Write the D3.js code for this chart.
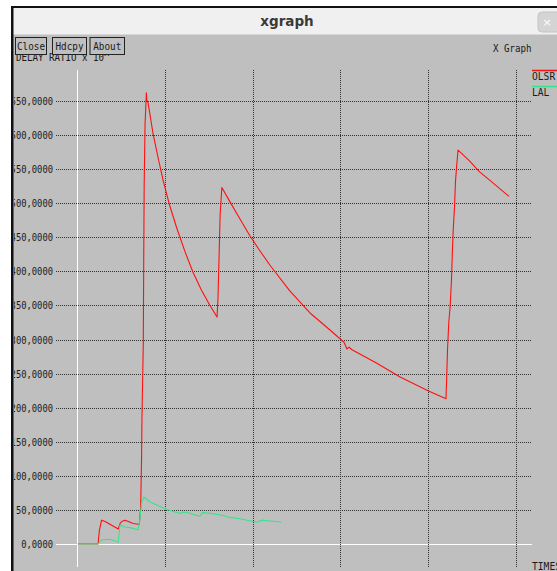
<!DOCTYPE html>
<html>
<head>
<meta charset="utf-8">
<script src="https://cdn.jsdelivr.net/npm/d3@7"></script>
<style>
  html, body { margin: 0; padding: 0; background: #ffffff; }
  svg { display: block; }
</style>
</head>
<body>
<svg id="chart" width="557" height="571"></svg>
<script>
// OLSR delay ratio over time (x10^)
const olsrTime = [0.2,4.8,5.1,5.6,6.4,7.5,8.6,9.4,9.8,10.2,10.9,11.7,12.8,13.9,14.2,14.5,14.7,14.8,15.1,15.2,
  15.3,15.5,15.8,15.9,16.2,17.3,18.5,19.6,21.1,22.7,24.6,26.4,28.3,30.2,31.9,32.1,32.4,32.6,33.0,34.85,
  37.13,39.41,41.69,43.96,48.52,53.08,57.63,60.82,61.5,61.96,62.64,68.1,73.6,79.95,84.05,84.2,84.4,84.7,85.0,85.3,
  85.5,85.7,86.0,86.2,86.5,86.8,89.4,91.7,94.0,98.4];
const olsrDelay = [0,0,20,35,33,29,25,22,30,33,35,33,30,29,29,54,123,185,295,417,
  524,615,662,652,647,603,566,534,497,464,429,399,373,351,333,358,431,483,523,502,
  477,452,430,409,371,339,314,296,286,289,285,266,245,225,213,241,285,326,348,387,
  427,461,495,530,556,578,562,546,534,510];

// LAL delay ratio over time
const lalTime = [0.2,4.8,5.6,7.5,9.4,9.8,10.9,12.1,13.9,14.3,14.7,15.2,16.6,18.9,20.4,22.3,
  23.6,24.2,25.7,27.2,28.0,28.6,30.2,32.5,34.8,37.1,39.3,40.8,42.3,43.5,45.4,46.5];
const lalDelay = [0,0,6,7,3,28,25,24,21,35,60,69,62,55,51,47,
  45,47,45,42,41,46,45,43,39,37,34,32,35,34,33,32];

const yTicks = [0,50,100,150,200,250,300,350,400,450,500,550,600,650];
const xTicks = [20,40,60,80,100];
const seriesNames = ["OLSR", "LAL"];
const seriesColors = ["#ff1010", "#33e68a"];

const svg = d3.select("#chart");
const mono = "'DejaVu Sans Mono', 'Liberation Mono', monospace";

// window frame
svg.append("rect").attr("x", 13).attr("y", 8).attr("width", 544).attr("height", 27).attr("fill", "#f0f0f0");
svg.append("line").attr("x1", 13).attr("x2", 557).attr("y1", 34.5).attr("y2", 34.5).attr("stroke", "#d8d8d8");
svg.append("text").attr("x", 287).attr("y", 26).attr("text-anchor", "middle")
  .attr("font-family", "'DejaVu Sans', sans-serif").attr("font-weight", "bold")
  .attr("font-size", 13.5).attr("fill", "#3a3a3a").text("xgraph");
svg.append("rect").attr("x", 538).attr("y", 12).attr("width", 24).attr("height", 20).attr("rx", 4)
  .attr("fill", "#d4d4d4").attr("stroke", "#c4c4c4");
svg.append("text").attr("x", 547).attr("y", 26).attr("text-anchor", "middle")
  .attr("font-family", "'DejaVu Sans', sans-serif").attr("font-weight", "bold")
  .attr("font-size", 11).attr("fill", "#f4f4f4").text("×");

// panel
svg.append("rect").attr("x", 13).attr("y", 35).attr("width", 544).attr("height", 536).attr("fill", "#bfbfbf");
svg.append("rect").attr("x", 11).attr("y", 6).attr("width", 546).attr("height", 2).attr("fill", "#111");
svg.append("rect").attr("x", 11).attr("y", 6).attr("width", 2.5).attr("height", 565).attr("fill", "#111");

svg.append("defs").append("clipPath").attr("id", "panelClip")
  .append("rect").attr("x", 14).attr("y", 35).attr("width", 543).attr("height", 536);

const panel = svg.append("g").attr("clip-path", "url(#panelClip)");

// text helper: narrow bitmap-like monospace
function label(g, x, y, s, anchor, per) {
  return g.append("text").attr("x", x).attr("y", y)
    .attr("text-anchor", anchor || "start")
    .attr("font-family", mono).attr("font-size", 10.5).attr("fill", "#1a1a1a")
    .attr("textLength", s.length * (per || 5.4)).attr("lengthAdjust", "spacingAndGlyphs")
    .text(s);
}

const x = d3.scaleLinear().domain([0, 100]).range([77, 516]);
const y = d3.scaleLinear().domain([0, 650]).range([544, 101]);
const plotLeft = 56, plotRight = 532, plotTop = 70, plotBottom = 567;

// axis title
label(panel, 16, 61, "DELAY RATIO x 10^", "start", 5.5);

// horizontal grid + labels
yTicks.forEach(v => {
  const yy = Math.round(y(v)) + 0.5;
  panel.append("line").attr("x1", plotLeft).attr("x2", plotRight).attr("y1", yy).attr("y2", yy)
    .attr("stroke", v === 0 ? "#ffffff" : "#303030")
    .attr("stroke-dasharray", v === 0 ? null : "1,1")
    .attr("stroke-width", 1);
  label(panel, 53, yy + 3.5, d3.format(".4f")(v).replace(".", ","), "end", 5.3);
});

// vertical grid
[0].concat(xTicks).forEach(v => {
  const xx = Math.round(x(v)) + 0.5;
  panel.append("line").attr("x1", xx).attr("x2", xx).attr("y1", plotTop).attr("y2", plotBottom)
    .attr("stroke", v === 0 ? "#ffffff" : "#303030")
    .attr("stroke-dasharray", v === 0 ? null : "1,1")
    .attr("stroke-width", 1);
});

// series
const line = d3.line().x(d => x(d[0])).y(d => y(d[1]));
const series = [
  d3.zip(olsrTime, olsrDelay),
  d3.zip(lalTime, lalDelay)
];
series.forEach((pts, i) => {
  panel.append("path").datum(pts).attr("d", line)
    .attr("fill", "none").attr("stroke", seriesColors[i]).attr("stroke-width", 1.1)
    .attr("stroke-linejoin", "round");
});

// legend
seriesNames.forEach((name, i) => {
  const ly = 70 + i * 16;
  panel.append("line").attr("x1", 532).attr("x2", 557).attr("y1", ly + 0.5).attr("y2", ly + 0.5)
    .attr("stroke", seriesColors[i]).attr("stroke-width", 1.5);
  label(panel, 532, ly + 10, name, "start", 5.8);
});

label(panel, 493, 52, "X Graph", "start", 5.5);
label(panel, 532, 570, "TIMES", "start", 5.8);

// buttons
const buttons = [["Close", 15, 31], ["Hdcpy", 52, 34], ["About", 89.5, 34.5]];
buttons.forEach(([t, bx, bw]) => {
  panel.append("rect").attr("x", bx + 0.5).attr("y", 37.5).attr("width", bw).attr("height", 17)
    .attr("fill", "#bfbfbf").attr("stroke", "#222").attr("stroke-width", 1);
  label(panel, bx + bw / 2 + 0.5, 50, t, "middle", 5.6);
});
</script>
</body>
</html>
